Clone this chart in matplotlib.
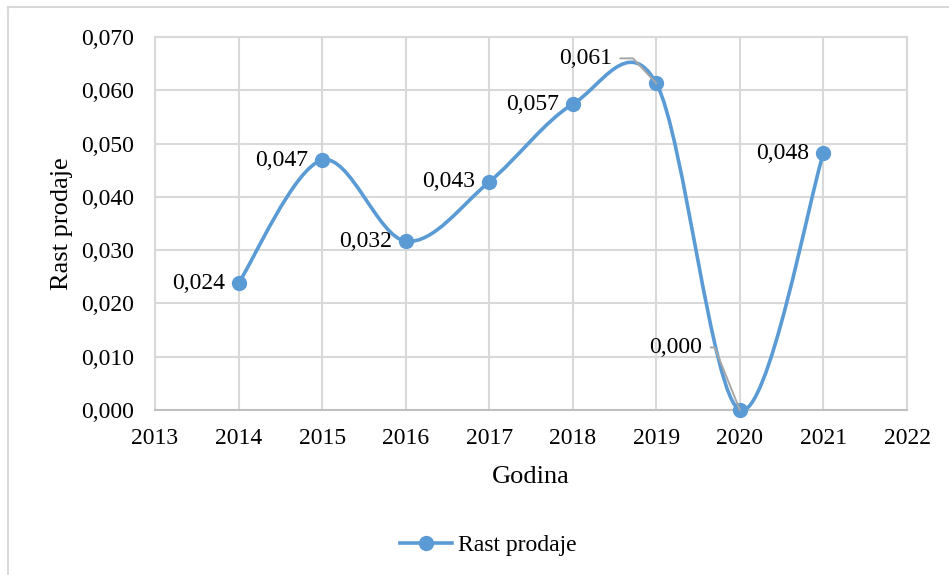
import matplotlib
matplotlib.use("Agg")
import matplotlib.pyplot as plt
from matplotlib.path import Path
from matplotlib.patches import PathPatch
from matplotlib.lines import Line2D

# =====================
# Data
# =====================
years = [2014, 2015, 2016, 2017, 2018, 2019, 2020, 2021]
growth = [0.0238, 0.0469, 0.0317, 0.0428, 0.0574, 0.0613, 0.0000, 0.0482]
labels = ["0,024", "0,047", "0,032", "0,043", "0,057", "0,061", "0,000", "0,048"]

x_ticks = list(range(2013, 2023))
y_ticks = [0.0, 0.01, 0.02, 0.03, 0.04, 0.05, 0.06, 0.07]
y_tick_labels = ["0,000", "0,010", "0,020", "0,030", "0,040", "0,050", "0,060", "0,070"]

# label offsets in points (default: left of the marker)
label_offsets = {5: (-32, 18), 6: (-27, 45)}
leader_angles = {5: -47, 6: 112}

BLUE = "#5B9BD5"
GRID = "#d9d9d9"

plt.rcParams['font.family'] = ['Liberation Serif', 'DejaVu Serif']
plt.rcParams['font.size'] = 17

fig = plt.figure(figsize=(9.49, 5.75), dpi=100)
ax = fig.add_axes([155 / 949, 1 - 410 / 575, (907 - 155) / 949, (410 - 37) / 575])

# chart border (light gray, Excel-style)
fig.add_artist(Line2D([8 / 949, 1], [1 - 7 / 575, 1 - 7 / 575], color=GRID, lw=1.5,
                      transform=fig.transFigure))
fig.add_artist(Line2D([8 / 949, 8 / 949], [0, 1 - 7 / 575], color=GRID, lw=1.5,
                      transform=fig.transFigure))

# =====================
# Smoothed line (Excel-like Catmull-Rom bezier)
# =====================
pts = list(zip(years, growth))
verts = [pts[0]]
codes = [Path.MOVETO]
n = len(pts)
for i in range(n - 1):
    p0 = pts[i - 1] if i > 0 else pts[i]
    p1 = pts[i]
    p2 = pts[i + 1]
    p3 = pts[i + 2] if i + 2 < n else pts[i + 1]
    c1 = (p1[0] + (p2[0] - p0[0]) / 6, p1[1] + (p2[1] - p0[1]) / 6)
    c2 = (p2[0] - (p3[0] - p1[0]) / 6, p2[1] - (p3[1] - p1[1]) / 6)
    verts += [c1, c2, p2]
    codes += [Path.CURVE4] * 3
ax.add_patch(PathPatch(Path(verts, codes), facecolor="none", edgecolor=BLUE,
                       lw=2.6, zorder=3, clip_on=False, capstyle="round"))
ax.plot(years, growth, "o", color=BLUE, ms=10, zorder=4, clip_on=False)

# =====================
# Data labels
# =====================
for i, (x, y) in enumerate(pts):
    if i in label_offsets:
        ax.annotate(labels[i], (x, y), xytext=label_offsets[i], textcoords="offset points",
                    ha="right", va="center", fontsize=17, zorder=5,
                    arrowprops=dict(arrowstyle="-", color="#a6a6a6", lw=1.4,
                                    shrinkA=4, shrinkB=0,
                                    connectionstyle="angle,angleA=0,angleB=%d,rad=0" % leader_angles[i]))
    else:
        ax.annotate(labels[i], (x, y), xytext=(-10, 0), textcoords="offset points",
                    ha="right", va="center", fontsize=17)

# =====================
# Axes
# =====================
ax.set_xlim(2013, 2022)
ax.set_ylim(0, 0.07)
ax.set_xticks(x_ticks)
ax.set_xticklabels([str(t) for t in x_ticks])
ax.set_yticks(y_ticks)
ax.set_yticklabels(y_tick_labels)
ax.tick_params(length=0, labelsize=17)
ax.tick_params(axis="y", pad=15)
ax.tick_params(axis="x", pad=13)
ax.grid(True, color=GRID, lw=1.5)
ax.set_axisbelow(True)
for s in ["top", "right", "left"]:
    ax.spines[s].set_color(GRID)
    ax.spines[s].set_linewidth(1.5)
ax.spines["bottom"].set_color("#bfbfbf")
ax.spines["bottom"].set_linewidth(1.5)

ax.set_xlabel("Godina", fontsize=19, labelpad=12)
ax.set_ylabel("Rast prodaje", fontsize=19, labelpad=6)

handle = Line2D([], [], color=BLUE, lw=2.6, marker="o", ms=10)
fig.legend([handle], ["Rast prodaje"], loc="center", bbox_to_anchor=(0.515, 1 - 545 / 575),
           frameon=False, fontsize=17, handlelength=2.2, handletextpad=0.25)

plt.savefig("out.png", dpi=100)
